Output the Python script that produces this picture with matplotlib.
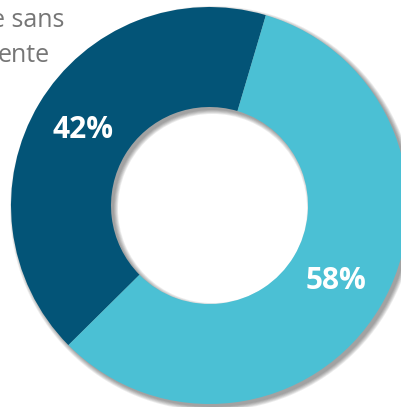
import matplotlib.pyplot as plt
from matplotlib.patches import Wedge

# data
shares = [42, 58]
colors = ['#035477', '#4BC0D4']
legend_bits = ['e sans', 'ente']   # cut off legend text on the left

W, H = 402, 407
cx, cy = 209.5, H - 205.5
r_out = 198.5
ring = 100

fig = plt.figure(figsize=(W / 100, H / 100), dpi=100)
ax = fig.add_axes([0, 0, 1, 1])

# soft drop shadow, offset down-right
for i in range(6):
    d = i * 0.8
    ax.add_patch(Wedge((cx + 3, cy - 3), r_out + d, 0, 360, width=ring + 2 * d,
                       facecolor='#000000', edgecolor='none', alpha=0.07, zorder=0))

wedges, texts, autotexts = ax.pie(
    shares, colors=colors, startangle=73.5, counterclock=True,
    center=(cx, cy), radius=r_out, frame=True,
    wedgeprops=dict(width=ring, edgecolor='none'),
    autopct='%.0f%%', pctdistance=0.745,
    textprops=dict(color='white', fontsize=21.5, fontweight='bold', family='Open Sans'))

ax.set_xlim(0, W)
ax.set_ylim(0, H)
ax.set_aspect('auto')
ax.axis('off')

ax.text(64, H - 27, legend_bits[0], ha='right', va='baseline',
        fontsize=18, color='#767676', family='Open Sans')
ax.text(50, H - 62, legend_bits[1], ha='right', va='baseline',
        fontsize=18, color='#767676', family='Open Sans')

plt.savefig('out.png', dpi=100)
